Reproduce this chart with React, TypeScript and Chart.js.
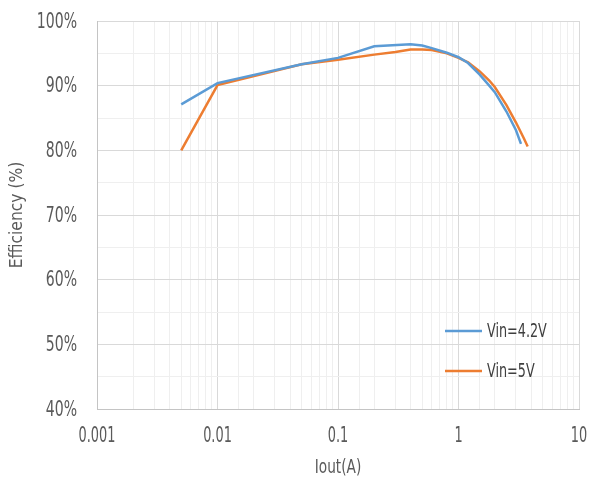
import React, { useEffect, useRef } from "react";
import { Chart, registerables } from "chart.js";

Chart.register(...registerables);

// Output current (A) and efficiency (%) for each input voltage
const currentVin42 = [0.005, 0.01, 0.05, 0.1, 0.2, 0.4, 0.5, 0.6, 0.8, 1, 1.2, 1.5, 1.8, 2, 2.5, 3, 3.3];
const effVin42 = [87.1, 90.4, 93.3, 94.3, 96.1, 96.4, 96.2, 95.8, 95.1, 94.4, 93.5, 91.7, 90.0, 89.0, 86.0, 83.1, 81.0];

const currentVin5 = [0.005, 0.01, 0.05, 0.1, 0.2, 0.3, 0.4, 0.5, 0.6, 0.8, 1, 1.2, 1.5, 1.8, 2, 2.5, 3, 3.5, 3.75];
const effVin5 = [80.0, 90.1, 93.3, 94.0, 94.8, 95.2, 95.6, 95.6, 95.5, 95.0, 94.3, 93.6, 92.2, 90.8, 89.8, 87.0, 84.3, 81.8, 80.6];

const seriesNames = ["Vin=4.2V", "Vin=5V"];
const seriesColors = ["#5B9BD5", "#ED7D31"];

const xTickValues = [0.001, 0.01, 0.1, 1, 10];
const xTickLabels = ["0.001", "0.01", "0.1", "1", "10"];
const yTickValues = [40, 50, 60, 70, 80, 90, 100];
const xTitle = "Iout(A)";
const yTitle = "Efficiency (%)";

const FONT = "'DejaVu Sans Condensed', 'DejaVu Sans', sans-serif";
const TEXT = "#5a5a5a";

const isDecade = (v: number) => {
  const l = Math.log10(v);
  return Math.abs(l - Math.round(l)) < 1e-6;
};

// Narrow text: draws a label squeezed horizontally around its anchor
function narrowText(
  ctx: CanvasRenderingContext2D,
  text: string,
  x: number,
  y: number,
  size: number,
  squeeze: number,
  align: CanvasTextAlign,
  color: string,
  rotate = 0
) {
  ctx.save();
  ctx.translate(x, y);
  if (rotate) ctx.rotate(rotate);
  ctx.scale(squeeze, 1);
  ctx.font = `${size}px ${FONT}`;
  ctx.fillStyle = color;
  ctx.textAlign = align;
  ctx.textBaseline = "middle";
  ctx.fillText(text, 0, 0);
  ctx.restore();
}

// Axis labels, titles and the legend, placed from the chart's scales
const axisText = {
  id: "axisText",
  afterDraw(chart: any) {
    const { ctx, chartArea } = chart;
    const xs = chart.scales.x;
    const ys = chart.scales.y;

    yTickValues.forEach((v) => {
      narrowText(ctx, `${v}%`, chartArea.left - 20, ys.getPixelForValue(v) + 1, 22, 0.71, "right", TEXT);
    });
    xTickValues.forEach((v, i) => {
      narrowText(ctx, xTickLabels[i], xs.getPixelForValue(v), chartArea.bottom + 27, 22, 0.65, "center", TEXT);
    });
    narrowText(ctx, xTitle, (chartArea.left + chartArea.right) / 2, chartArea.bottom + 59, 20, 0.76, "center", TEXT);
    narrowText(ctx, yTitle, 17.5, (chartArea.top + chartArea.bottom) / 2, 18, 0.96, "center", TEXT, -Math.PI / 2);

    const x0 = chartArea.right - 134;
    const x1 = chartArea.right - 97;
    const tx = chartArea.right - 92;
    const ly = [chartArea.bottom - 78, chartArea.bottom - 38];
    seriesNames.forEach((name, i) => {
      ctx.save();
      ctx.strokeStyle = seriesColors[i];
      ctx.lineWidth = 2.5;
      ctx.beginPath();
      ctx.moveTo(x0, ly[i]);
      ctx.lineTo(x1, ly[i]);
      ctx.stroke();
      ctx.restore();
      narrowText(ctx, name, tx, ly[i] + 1, 20, 0.71, "left", "#3f3f3f");
    });
  },
};

export default function App() {
  const ref = useRef<HTMLCanvasElement | null>(null);

  useEffect(() => {
    if (!ref.current) return;
    const chart = new Chart(ref.current, {
      type: "line",
      data: {
        datasets: [
          {
            label: seriesNames[0],
            data: currentVin42.map((x, i) => ({ x, y: effVin42[i] })),
            borderColor: seriesColors[0],
            backgroundColor: seriesColors[0],
            borderWidth: 2.5,
            pointRadius: 0,
            tension: 0,
          },
          {
            label: seriesNames[1],
            data: currentVin5.map((x, i) => ({ x, y: effVin5[i] })),
            borderColor: seriesColors[1],
            backgroundColor: seriesColors[1],
            borderWidth: 2.5,
            pointRadius: 0,
            tension: 0,
          },
        ],
      },
      options: {
        animation: false,
        responsive: true,
        maintainAspectRatio: false,
        layout: { padding: { left: 0, right: 10, top: 21, bottom: 0 } },
        plugins: {
          legend: { display: false },
          tooltip: { enabled: false },
        },
        scales: {
          x: {
            type: "logarithmic",
            min: 0.001,
            max: 10,
            afterFit: (s: any) => {
              s.height = 73;
              s.paddingLeft = 0;
              s.paddingRight = 0;
            },
            border: { color: "#c4c4c4", width: 1 },
            grid: {
              drawTicks: false,
              color: (c: any) => (isDecade(c.tick?.value ?? 1) ? "#d9d9d9" : "#efefef"),
              lineWidth: 1,
            },
            ticks: { autoSkip: false, display: false, maxRotation: 0 },
          },
          y: {
            type: "linear",
            min: 40,
            max: 100,
            afterFit: (s: any) => {
              s.width = 97;
              s.paddingTop = 0;
              s.paddingBottom = 0;
            },
            border: { color: "#c4c4c4", width: 1 },
            grid: {
              drawTicks: false,
              color: (c: any) => ((c.tick?.value ?? 0) % 10 === 0 ? "#d9d9d9" : "#efefef"),
              lineWidth: 1,
            },
            ticks: { stepSize: 5, display: false },
          },
        },
      },
      plugins: [axisText],
    });
    return () => chart.destroy();
  }, []);

  return (
    <div style={{ position: "fixed", left: 0, top: 0, width: 589, height: 482, background: "#fff" }}>
      <canvas ref={ref} />
    </div>
  );
}
